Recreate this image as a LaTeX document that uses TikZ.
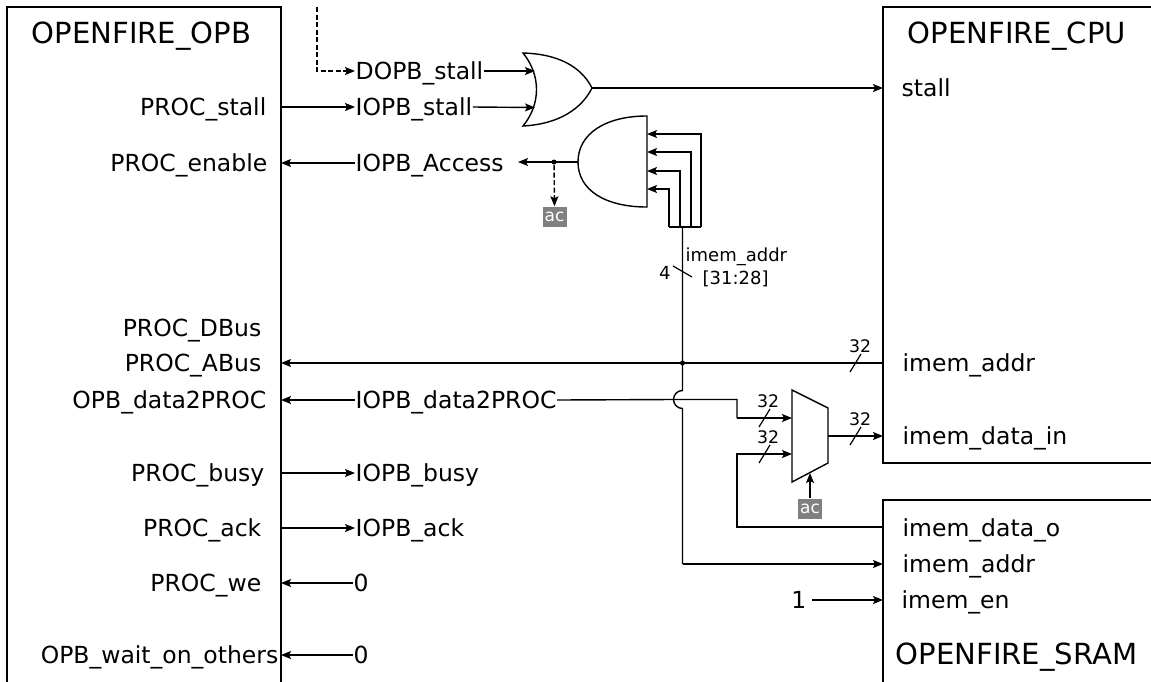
\documentclass[tikz,border=0pt]{standalone}
\usepackage{fontspec}
\setmainfont{DejaVu Sans}
\usetikzlibrary{arrows.meta,calc}

\begin{document}
\begin{tikzpicture}[x=1pt,y=-1pt,line width=1.4pt,>={Stealth[length=10pt,width=8pt,inset=2pt]},
 bloque/.style={draw,minimum width=#1,anchor=north west,inner sep=0pt,outer sep=0pt},
 titulo/.style={font=\fontsize{29.1}{30}\selectfont,inner sep=0pt,anchor=west,text height=21pt,text depth=0pt},
 senal/.style={font=\fontsize{23.5}{25}\selectfont,inner sep=0pt,text height=17pt,text depth=0pt},
 ancho/.style={font=\fontsize{17.3}{18}\selectfont,inner sep=0pt},
 etiq/.style={font=\fontsize{17}{18}\selectfont,inner sep=0pt,fill=black!50,text=white,minimum width=24pt,minimum height=20pt},
 nota/.style={font=\fontsize{18}{20}\selectfont,inner sep=0pt,anchor=base west},
 punto/.style={circle,fill=black,inner sep=0pt,minimum size=5pt},
 flecha/.style={->},
 guion/.style={->,dash pattern=on 5pt off 2.5pt},
 barra/.style={line width=1.2pt}]
\clip (0,0) rectangle (1151,681);
\node[bloque=274pt,minimum height=800pt] (opb) at (7,7) {};
\node[bloque=400pt,minimum height=456pt] (cpu) at (883,7) {};
\node[bloque=400pt,minimum height=400pt] (sram) at (883,500) {};
\node[titulo] (topb) at (31,33) {OPENFIRE\_OPB};
\node[titulo] (tcpu) at (907,33) {OPENFIRE\_CPU};
\node[titulo] (tsram) at (895,654) {OPENFIRE\_SRAM};

\node[senal,anchor=east] (pstall) at (267,107) {PROC\_stall};
\node[senal,anchor=east] (penable) at (268,163) {PROC\_enable};
\node[senal,anchor=east] (pdbus) at (262,328) {PROC\_DBus};
\node[senal,anchor=east] (pabus) at (262,363) {PROC\_ABus};
\node[senal,anchor=east] (pdata) at (267,400) {OPB\_data2PROC};
\node[senal,anchor=east] (pbusy) at (265,473) {PROC\_busy};
\node[senal,anchor=east] (pack) at (262,528) {PROC\_ack};
\node[senal,anchor=east] (pwe) at (262,583) {PROC\_we};
\node[senal,anchor=east] (pwait) at (279,655) {OPB\_wait\_on\_others};

\node[senal,anchor=west] (dstall) at (355,71) {DOPB\_stall};
\node[senal,anchor=west] (istall) at (355,107) {IOPB\_stall};
\node[senal,anchor=west] (iaccess) at (355,163) {IOPB\_Access};
\node[senal,anchor=west] (idata) at (355,400) {IOPB\_data2PROC};
\node[senal,anchor=west] (ibusy) at (355,473) {IOPB\_busy};
\node[senal,anchor=west] (iack) at (355,528) {IOPB\_ack};
\node[senal,anchor=west] (cerowe) at (353,583) {0};
\node[senal,anchor=west] (cerowait) at (353,655) {0};

\node[senal,anchor=west] (cstall) at (901,88) {stall};
\node[senal,anchor=west] (caddr) at (902,363) {imem\_addr};
\node[senal,anchor=west] (cdata) at (902,436) {imem\_data\_in};
\node[senal,anchor=west] (sdata) at (902,528) {imem\_data\_o};
\node[senal,anchor=west] (saddr) at (902,564) {imem\_addr};
\node[senal,anchor=west] (sen) at (901,600) {imem\_en};
\node[senal,anchor=east] (uno) at (807,600) {1};

\coordinate (orA) at (535,71);
\coordinate (orB) at (535,107.5);
\coordinate (orO) at (592,88);
\coordinate (andO) at (578,162);
\coordinate (muxA) at (792,418);
\coordinate (muxB) at (792,454);
\coordinate (muxO) at (828,436);
\coordinate (muxS) at (810,473);
\coordinate (bus) at (682.5,227);

\draw (523,53) .. controls (560,54) and (582,68) .. (orO) .. controls (582,108) and (560,124) .. (523,126) .. controls (541,104) and (541,75) .. cycle;
\draw (647,116) -- (647,207) .. controls (605,207) and (578,190) .. (andO) .. controls (578,134) and (605,116) .. cycle;
\draw (792,390) -- (828,408) -- (828,463) -- (792,482) -- cycle;

\node[etiq] (ac1) at (554.5,217) {ac};
\node[etiq] (ac2) at (810,509) {ac};
\node[punto] (nacc) at (554,162) {};
\node[punto] (nbus) at (682.5,363) {};

\draw[flecha] (opb.east |- pstall) -- (istall.west);
\draw[flecha] (iaccess.west) -- (opb.east |- iaccess);
\draw[flecha] (nbus -| cpu.west) -- (opb.east |- nbus);
\draw[flecha] (idata.west) -- (opb.east |- idata);
\draw[flecha] (opb.east |- ibusy) -- (ibusy.west);
\draw[flecha] (opb.east |- iack) -- (iack.west);
\draw[flecha] (cerowe.west) -- (opb.east |- cerowe);
\draw[flecha] (cerowait.west) -- (opb.east |- cerowait);
\draw[guion] (317,7) -- (317,71) -- (dstall.west);
\draw[flecha] (dstall.east) -- (orA);
\draw[flecha] (istall.east) -- (orB);
\draw[flecha] (orO) -- (orO -| cpu.west);
\draw[flecha] (andO) -- (518,162);
\draw[guion] (nacc) -- (ac1.north);
\foreach \xb/\yb in {669/189,680/171,691/152,701/134}
 \draw[flecha] (\xb,227) -- (\xb,\yb) -- (647,\yb);
\draw (669,227) -- (701,227);
\draw (bus) -- (682.5,390.5) arc[start angle=270,end angle=90,radius=9] -- (682.5,564);
\draw[flecha] (682.5,564) -- (saddr -| sram.west);
\draw (idata.east) -- (673.5,399.5) -- (737,399.5) -- (737,418);
\draw[flecha] (737,418) -- (muxA);
\draw[flecha] (sdata -| sram.west) ++(0,-1) -- (737,527) -- (737,454) -- (muxB);
\draw[flecha] (muxO) -- (cdata -| cpu.west);
\draw[flecha] (ac2.north) -- (muxS);
\draw[flecha] (uno.east) ++(5,0) -- (sen -| sram.west);

\draw[barra] (850,372) -- (861,354);
\draw[barra] (759,427) -- (770,409);
\draw[barra] (759,463) -- (770,445);
\draw[barra] (850,445) -- (861,427);
\draw[barra] (673,266) -- (692,277);
\node[ancho] (w1) at (860,346) {32};
\node[ancho] (w2) at (768,401) {32};
\node[ancho] (w3) at (768,437) {32};
\node[ancho] (w4) at (860,419) {32};
\node[nota] (w5) at (658.5,279) {4};
\node[nota] (naddr) at (685,261) {imem\_addr};
\node[nota] (nrango) at (702,284) {[31:28]};
\end{tikzpicture}
\end{document}
